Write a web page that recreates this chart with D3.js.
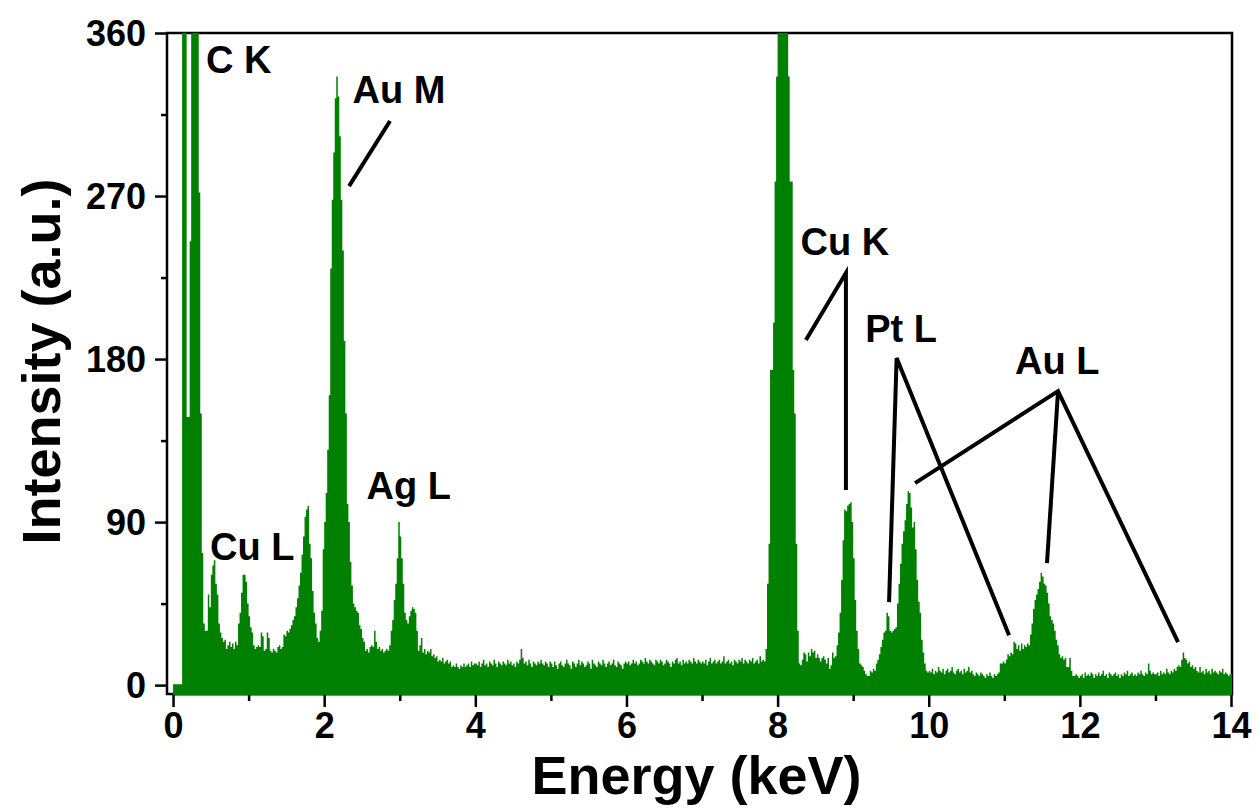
<!DOCTYPE html>
<html><head><meta charset="utf-8">
<script src="https://cdn.jsdelivr.net/npm/d3@7"></script>
<style>
body{margin:0;background:#fff}
text{font-family:"Liberation Sans",Arial,Helvetica,sans-serif;font-weight:bold;fill:#000}
</style>
</head><body>
<svg id="chart" width="1259" height="809"></svg>
<script>
// ---- data: EDS spectrum, counts per 0.02 keV channel, one array per keV ----
const binWidth = 0.02;
const seg0 = [0.5,0.5,0.5,0.5,0.5,0.5,400,400,400,148,148,245,400,400,400,400,380,272,150,73,34,30,30,50,43,61,66,69,56,50,34,29,26,24,25,20,22,24,21,23,20,24,22,34,40,51,61,61,57,45];
const seg1 = [38,32,29,22,20,21,22,21,29,27,19,20,29,26,19,18,20,19,18,21,22,20,21,28,27,30,29,31,33,36,38,43,48,55,62,72,82,93,97,99,78,70,52,40,34,26,24,30,41,75];
const seg2 = [90,106,130,160,230,268,294,324,336,325,303,268,240,190,150,100,90,68,55,45,43,41,40,33,31,26,24,19,20,18,21,22,21,30,24,20,21,19,20,18,19,20,19,22,30,36,47,56,70,90];
const seg3 = [82,70,56,40,36,34,38,41,43,42,40,30,19,22,26,18,20,17,19,18,20,16,17,15,16,13,14,13,15,12,13,14,12,13,10,11,10,12,10,9,11,10,12,10,11,12,10,13,11,12];
const seg4 = [12,11,13,10,12,14,11,12,10,13,12,11,14,12,10,13,12,11,13,12,11,14,12,13,11,12,10,13,12,14,20,15,12,13,11,14,12,10,13,12,11,13,12,14,12,11,13,12,10,13];
const seg5 = [12,10,13,11,9,12,13,11,10,12,14,12,11,9,13,12,10,12,14,11,13,12,10,11,13,12,9,14,12,11,10,13,12,11,14,12,10,12,13,11,12,14,11,10,13,12,11,9,12,13];
const seg6 = [12,13,11,12,14,12,13,11,12,14,13,12,15,13,12,14,13,12,11,14,13,12,14,13,11,12,14,13,12,10,13,12,14,15,12,13,11,14,12,13,12,14,13,12,15,13,12,14,13,12];
const seg7 = [13,12,14,11,13,15,12,13,14,12,13,14,12,13,16,12,13,14,12,13,11,14,13,12,14,13,15,12,14,13,12,14,13,15,12,13,14,12,16,13,14,13,20,56,78,174,174,200,278,336];
const seg8 = [400,400,400,400,400,400,370,336,278,278,174,150,78,30,12,11,14,18,17,13,18,16,20,18,19,15,17,15,13,15,16,14,12,15,9,11,18,15,16,22,29,40,58,80,97,96,99,100,101,90];
const seg9 = [70,47,30,20,12,11,10,8,6,5,5,8,7,9,8,12,14,17,21,25,29,30,40,38,30,29,30,31,32,45,56,67,78,85,91,100,107,106,98,87,90,75,58,46,40,25,18,12,8,7];
const seg10 = [8,7,9,6,8,7,10,8,7,9,6,8,9,7,8,10,7,6,8,9,7,8,6,9,7,8,10,7,8,6,5,7,6,5,7,6,5,4,6,5,7,5,4,6,5,6,7,12,12,13];
const seg11 = [12,14,17,16,18,17,24,23,20,22,19,23,20,22,21,23,22,28,34,42,47,50,53,57,62,60,56,55,51,45,38,36,34,30,25,22,17,15,16,14,15,10,10,15,8,5,5,6,5,4];
const seg12 = [5,6,4,7,5,6,5,7,6,4,6,5,7,5,6,8,5,6,4,7,6,5,6,7,5,6,4,6,5,7,6,8,5,6,7,5,6,5,7,6,8,6,5,7,6,12,8,6,7,6];
const seg13 = [6,7,5,8,6,7,6,9,7,6,8,7,9,8,10,11,10,14,18,15,14,12,13,10,11,9,10,8,7,10,7,8,6,9,7,8,6,9,7,8,7,6,8,7,9,6,7,6,5,6];
const segments = [seg0,seg1,seg2,seg3,seg4,seg5,seg6,seg7,seg8,seg9,seg10,seg11,seg12,seg13];

const xMajorTicks = [0,2,4,6,8,10,12,14];
const xMinorTicks = [1,3,5,7,9,11,13];
const yMajorTicks = [0,90,180,270,360];
const yMinorTicks = [45,135,225,315];

// peak labels (left edge keV, baseline intensity)
const labelText = ["C K","Au M","Cu L","Ag L","Cu K","Pt L","Au L"];
const labelE    = [0.437,2.375,0.490,2.561,8.303,9.160,11.142];
const labelV    = [337.9,321.4,69.0,102.7,237.4,189.4,171.7];
// leader lines as polylines in (keV, intensity)
const leaderLines = [
  [[2.329,275.5],[2.871,311.4]],
  [[8.375,190.5],[8.904,227.5],[8.904,107.7]],
  [[9.475,45.8],[9.575,180.6],[11.063,27.6]],
  [[9.819,111.5],[11.711,162.3],[13.299,23.7]],
  [[11.711,162.3],[11.565,67.4]]
];

// ---- layout ----
const svg = d3.select("#chart");
const L = 167, R = 1232, T = 33, B = 694;
const x = d3.scaleLinear().domain([-0.08, 14.013]).range([L, R]);
const y = d3.scaleLinear().domain([-4.9, 360]).range([B, T]);

// spectrum points
const pts = [];
segments.forEach((seg, k) => seg.forEach((v, i) => pts.push({e: k + i*binWidth, v})));
pts.push({e: 14.013, v: pts[pts.length-1].v});

svg.append("defs").append("clipPath").attr("id","plotclip")
  .append("rect").attr("x",L).attr("y",T).attr("width",R-L).attr("height",B-T+2);

// frame
svg.append("rect").attr("x",L).attr("y",T).attr("width",R-L).attr("height",B-T)
  .attr("fill","none").attr("stroke","#000").attr("stroke-width",2.5);

const area = d3.area()
  .x(d => x(d.e))
  .y0(B + 1.5)
  .y1(d => y(Math.min(d.v, 380)))
  .curve(d3.curveStepAfter);
svg.append("path").datum(pts).attr("clip-path","url(#plotclip)")
  .attr("d", area).attr("fill","#008000").attr("stroke","none");

// axes
const gx = svg.append("g").attr("transform",`translate(0,${B+1})`);
gx.call(d3.axisBottom(x).tickValues(xMajorTicks).tickSize(12).tickPadding(6).tickFormat(d3.format("d")));
gx.select(".domain").remove();
gx.selectAll(".tick line").attr("stroke","#000").attr("stroke-width",2.5);
gx.selectAll(".tick text").style("font-size","36px").attr("y",17).attr("dy","0.72em");
const gx2 = svg.append("g").attr("transform",`translate(0,${B+1})`);
gx2.call(d3.axisBottom(x).tickValues(xMinorTicks).tickSize(6).tickFormat(""));
gx2.select(".domain").remove();
gx2.selectAll(".tick line").attr("stroke","#000").attr("stroke-width",2.5);

const gy = svg.append("g").attr("transform",`translate(${L},0)`);
gy.call(d3.axisLeft(y).tickValues(yMajorTicks).tickSize(12).tickPadding(8).tickFormat(d3.format("d")));
gy.select(".domain").remove();
gy.selectAll(".tick line").attr("stroke","#000").attr("stroke-width",2.5);
gy.selectAll(".tick text").style("font-size","36px").attr("x",-21).attr("dy","0.34em");
const gy2 = svg.append("g").attr("transform",`translate(${L},0)`);
gy2.call(d3.axisLeft(y).tickValues(yMinorTicks).tickSize(6).tickFormat(""));
gy2.select(".domain").remove();
gy2.selectAll(".tick line").attr("stroke","#000").attr("stroke-width",2.5);

// axis titles
svg.append("text").attr("x",(L+R)/2 - 3).attr("y",794).attr("text-anchor","middle")
  .style("font-size","54px").text("Energy (keV)");
svg.append("text").attr("transform",`translate(60,${(T+B)/2 - 2}) rotate(-90)`)
  .attr("text-anchor","middle").style("font-size","54px").text("Intensity (a.u.)");

// leader lines
const lineGen = d3.line().x(d => x(d[0])).y(d => y(d[1]));
svg.selectAll("path.leader").data(leaderLines).enter().append("path")
  .attr("class","leader").attr("d", lineGen)
  .attr("fill","none").attr("stroke","#000").attr("stroke-width",4).attr("stroke-linejoin","miter");

// peak labels
svg.selectAll("text.peak").data(labelText).enter().append("text")
  .attr("class","peak")
  .attr("x",(d,i) => x(labelE[i])).attr("y",(d,i) => y(labelV[i]))
  .style("font-size","38px").text(d => d);
</script>
</body></html>
